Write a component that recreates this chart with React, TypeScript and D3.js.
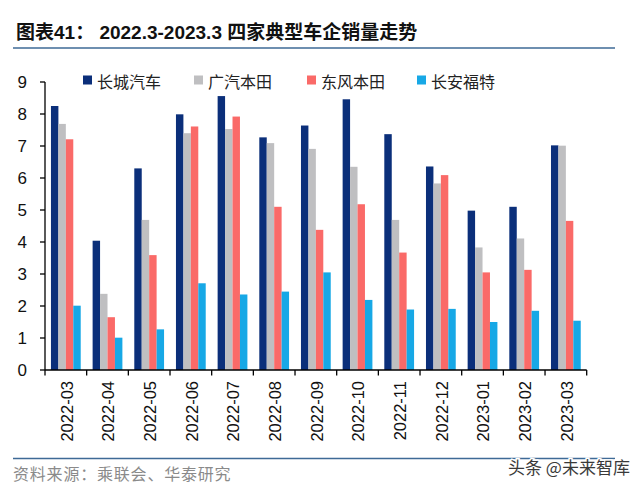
import React from "react";
import * as d3 from "d3";

const categories = ["2022-03","2022-04","2022-05","2022-06","2022-07","2022-08","2022-09","2022-10","2022-11","2022-12","2023-01","2023-02","2023-03"];
const seriesNames = ["长城汽车","广汽本田","东风本田","长安福特"];
const greatWall = [8.25,4.04,6.30,7.99,8.56,7.27,7.64,8.46,7.37,6.36,4.98,5.10,7.02];
const gacHonda = [7.69,2.38,4.69,7.40,7.53,7.09,6.91,6.35,4.69,5.83,3.83,4.11,7.01];
const dongfengHonda = [7.21,1.65,3.59,7.61,7.92,5.10,4.38,5.18,3.67,6.09,3.05,3.13,4.66];
const changanFord = [2.01,1.01,1.27,2.71,2.36,2.45,3.05,2.19,1.89,1.91,1.50,1.85,1.54];
const yTicks = [0,1,2,3,4,5,6,7,8,9];
const colors = ["#0B2F7A","#BFBFC1","#FA6A68","#17A8E6"];

const seriesValues = [greatWall, gacHonda, dongfengHonda, changanFord];

export default function App() {
  const width = 640, height = 486;
  const x = d3.scaleBand<string>().domain(categories).range([45, 586.7]).padding(0);
  const sub = d3.scaleBand<string>().domain(seriesNames).range([0, x.bandwidth()]).paddingInner(0).paddingOuter(0.8);
  const y = d3.scaleLinear().domain([0, 9]).range([370, 82]);
  const numFont = "'Liberation Sans', Arial, sans-serif";
  const cjkFont = "'Noto Sans CJK SC', sans-serif";
  const legendX = [83, 194, 307, 417];

  return (
    <svg width={width} height={height} style={{ position: "absolute", left: 0, top: 0, background: "#fff" }}>
      <rect x={0} y={0} width={width} height={height} fill="#fff" />
      {/* Title */}
      <text x={16} y={39} fontFamily={`'Liberation Sans', 'Noto Sans CJK SC', sans-serif`} fontWeight="bold" fontSize={19} fill="#111">
        图表41：  2022.3-2023.3 四家典型车企销量走势
      </text>
      <line x1={13} x2={615} y1={48} y2={48} stroke="#3E6A96" strokeWidth={1.5} />

      {/* Bars */}
      {categories.map((c, i) => (
        <g key={c}>
          {seriesValues.map((vals, s) => (
            <rect key={s}
              x={(x(c) as number) + (sub(seriesNames[s]) as number)}
              y={y(vals[i])}
              width={sub.bandwidth()}
              height={y(0) - y(vals[i])}
              fill={colors[s]} />
          ))}
        </g>
      ))}

      {/* Y axis */}
      <line x1={45} x2={45} y1={y(9)} y2={y(0)} stroke="#000" strokeWidth={1.3} />
      {yTicks.map(t => (
        <g key={t}>
          <line x1={40} x2={45} y1={y(t)} y2={y(t)} stroke="#000" strokeWidth={1.3} />
          <text x={27} y={y(t)} textAnchor="end" dominantBaseline="central" fontFamily={numFont} fontSize={17} fill="#111">{t}</text>
        </g>
      ))}

      {/* X axis */}
      <line x1={45} x2={586.7} y1={370} y2={370} stroke="#000" strokeWidth={1.3} />
      {[...categories.map(c => x(c) as number), 586.7].map((px, i) => (
        <line key={i} x1={px} x2={px} y1={370} y2={375.5} stroke="#000" strokeWidth={1.3} />
      ))}
      {categories.map(c => {
        const cx = (x(c) as number) + x.bandwidth() / 2 + 0.8;
        return (
          <text key={c} transform={`translate(${cx},381) rotate(-90)`} textAnchor="end" dominantBaseline="central"
            fontFamily={numFont} fontSize={16.5} fill="#111">{c}</text>
        );
      })}

      {/* Legend */}
      {seriesNames.map((n, i) => (
        <g key={n}>
          <rect x={legendX[i]} y={75.5} width={9} height={9} fill={colors[i]} />
          <text x={legendX[i] + 14} y={80.5} dominantBaseline="central" fontFamily={cjkFont} fontSize={16} fill="#222">{n}</text>
        </g>
      ))}

      {/* Footer */}
      <line x1={13} x2={615} y1={458.5} y2={458.5} stroke="#3E6A96" strokeWidth={1.5} />
      <text x={13} y={473} dominantBaseline="central" fontFamily={cjkFont} fontSize={16} letterSpacing={0.8} fill="#8a8a8a">资料来源：乘联会、华泰研究</text>
      <text x={508} y={466} dominantBaseline="central" fontFamily={cjkFont} fontSize={17} fill="#3a3a3a"
        stroke="#fff" strokeWidth={3} paintOrder="stroke" style={{ paintOrder: "stroke" } as any}>头条 @未来智库</text>
    </svg>
  );
}
